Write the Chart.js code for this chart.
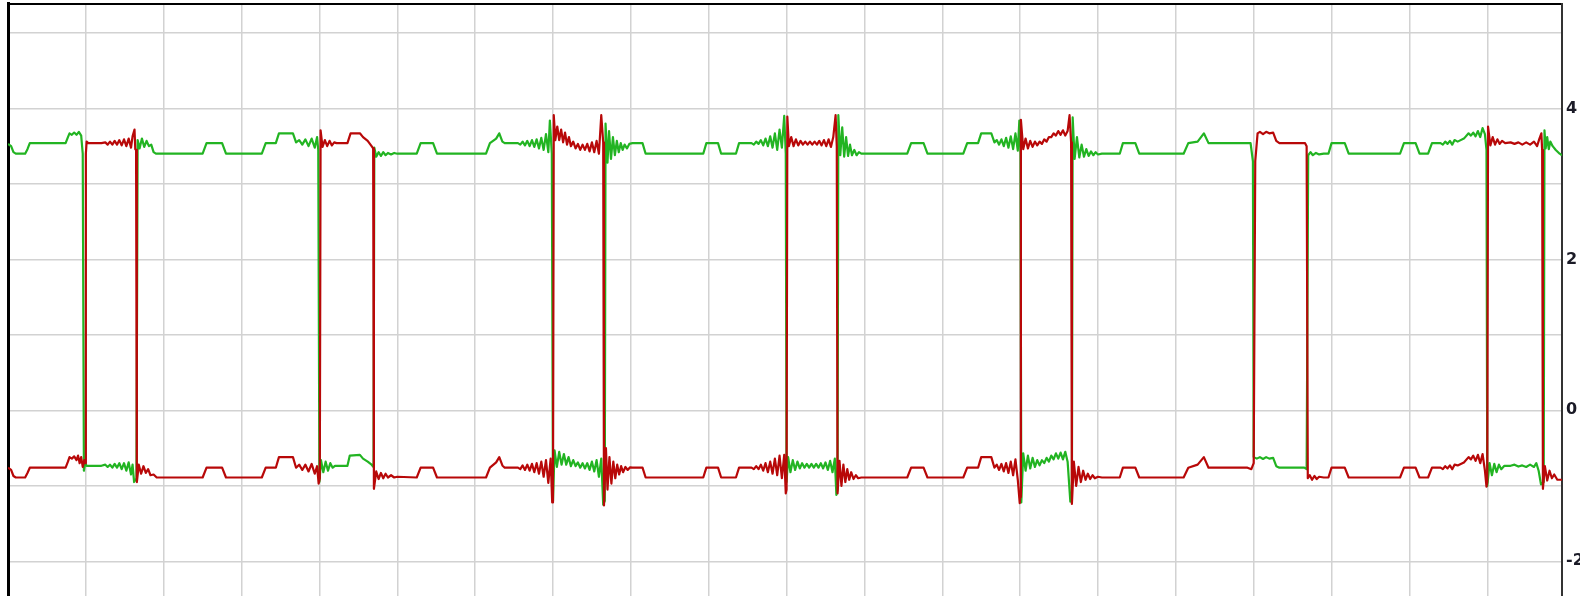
<!DOCTYPE html>
<html>
<head>
<meta charset="utf-8">
<script src="https://cdn.jsdelivr.net/npm/chart.js@4/dist/chart.umd.min.js"></script>
<style>
    html, body { margin: 0; padding: 0; background: #fff; }
    #wrap { width: 1580px; height: 596px; position: relative; }
</style>
</head>
<body>
<div id="wrap"><canvas id="chart"></canvas></div>
<script>
// time in grid divisions, value in volts
var greenTrace = [
    [0.00, 3.53], [0.04, 3.50], [0.07, 3.42], [0.10, 3.40], [0.22, 3.40], [0.25, 3.46], [0.28, 3.54], [0.74, 3.54],
    [0.77, 3.62], [0.79, 3.67], [0.82, 3.65], [0.85, 3.68], [0.88, 3.65], [0.91, 3.69], [0.94, 3.64],
    [0.96, 3.40], [0.975, -0.80], [0.99, -0.70], [1.01, -0.735], [1.20, -0.735], [1.25, -0.72], [1.28, -0.75],
    [1.31, -0.72], [1.34, -0.76], [1.37, -0.71], [1.40, -0.76], [1.43, -0.70], [1.46, -0.78], [1.49, -0.70],
    [1.52, -0.80], [1.55, -0.69], [1.58, -0.85], [1.60, -0.72], [1.62, -0.95],
    [1.65, -0.90], [1.665, 3.58], [1.69, 3.47], [1.72, 3.60], [1.75, 3.49], [1.78, 3.57], [1.81, 3.50], [1.84, 3.52],
    [1.87, 3.42], [1.90, 3.40], [2.50, 3.40], [2.55, 3.54], [2.75, 3.54], [2.80, 3.40], [3.26, 3.40], [3.31, 3.54],
    [3.44, 3.54], [3.48, 3.67], [3.66, 3.67], [3.70, 3.55], [3.74, 3.58], [3.78, 3.52], [3.82, 3.59], [3.86, 3.50],
    [3.90, 3.60], [3.94, 3.48], [3.97, 3.62],
    [3.985, 3.45], [4.00, -0.95], [4.02, -0.66], [4.05, -0.82], [4.08, -0.68], [4.11, -0.80], [4.14, -0.70],
    [4.17, -0.76], [4.20, -0.735], [4.36, -0.735], [4.39, -0.60], [4.52, -0.59], [4.56, -0.64], [4.62, -0.68],
    [4.67, -0.72],
    [4.695, -0.75], [4.705, 3.48], [4.73, 3.36], [4.76, 3.42], [4.79, 3.37], [4.82, 3.42], [4.85, 3.38], [4.88, 3.41],
    [4.92, 3.39], [4.96, 3.41], [5.00, 3.40], [5.25, 3.40], [5.30, 3.54], [5.46, 3.54], [5.51, 3.40], [6.14, 3.40],
    [6.19, 3.54], [6.27, 3.60], [6.31, 3.67], [6.35, 3.56], [6.38, 3.54], [6.55, 3.54], [6.58, 3.52], [6.61, 3.56],
    [6.64, 3.51], [6.67, 3.57], [6.70, 3.50], [6.73, 3.58], [6.76, 3.49], [6.79, 3.59], [6.82, 3.47], [6.85, 3.61],
    [6.88, 3.45], [6.91, 3.66], [6.94, 3.42], [6.96, 3.84],
    [6.985, 3.40], [7.00, -1.20], [7.02, -0.53], [7.05, -0.75], [7.08, -0.55], [7.11, -0.72], [7.14, -0.58],
    [7.17, -0.72], [7.20, -0.62], [7.23, -0.74], [7.26, -0.66], [7.29, -0.74], [7.32, -0.69], [7.35, -0.76],
    [7.38, -0.70], [7.41, -0.77], [7.44, -0.70], [7.47, -0.79], [7.50, -0.68], [7.53, -0.81], [7.56, -0.66],
    [7.59, -0.88], [7.62, -0.64], [7.645, -1.25],
    [7.665, -1.20], [7.675, 3.80], [7.70, 3.28], [7.72, 3.70], [7.745, 3.33], [7.77, 3.62], [7.795, 3.38], [7.82, 3.57],
    [7.845, 3.42], [7.87, 3.54], [7.895, 3.45], [7.92, 3.52], [7.95, 3.47], [7.98, 3.53], [8.02, 3.54], [8.15, 3.54],
    [8.19, 3.40], [8.93, 3.40], [8.97, 3.54], [9.12, 3.54], [9.16, 3.40], [9.35, 3.40], [9.39, 3.54], [9.55, 3.54],
    [9.58, 3.52], [9.61, 3.56], [9.64, 3.53], [9.67, 3.58], [9.70, 3.51], [9.73, 3.60], [9.76, 3.50], [9.79, 3.63],
    [9.82, 3.48], [9.85, 3.67], [9.88, 3.45], [9.91, 3.72], [9.94, 3.48], [9.97, 3.90],
    [9.99, 3.40], [10.00, -0.95], [10.02, -0.62], [10.05, -0.82], [10.08, -0.66], [10.11, -0.79], [10.14, -0.68],
    [10.17, -0.77], [10.20, -0.70], [10.23, -0.76], [10.26, -0.71], [10.29, -0.76], [10.32, -0.71], [10.35, -0.76],
    [10.38, -0.71], [10.41, -0.76], [10.44, -0.70], [10.47, -0.77], [10.50, -0.69], [10.53, -0.79], [10.56, -0.67],
    [10.59, -0.82], [10.62, -0.64], [10.64, -1.12],
    [10.655, -1.05], [10.665, 3.91], [10.69, 3.38], [10.715, 3.75], [10.74, 3.36], [10.765, 3.62], [10.79, 3.37],
    [10.815, 3.52], [10.84, 3.38], [10.87, 3.45], [10.90, 3.38], [10.93, 3.42], [10.96, 3.40], [11.55, 3.40],
    [11.60, 3.54], [11.76, 3.54], [11.81, 3.40], [12.27, 3.40], [12.32, 3.54], [12.46, 3.54], [12.50, 3.67],
    [12.63, 3.67], [12.67, 3.55], [12.70, 3.58], [12.73, 3.52], [12.76, 3.59], [12.79, 3.50], [12.82, 3.61],
    [12.85, 3.48], [12.88, 3.63], [12.91, 3.46], [12.94, 3.67], [12.97, 3.44], [12.99, 3.84],
    [13.005, 3.40], [13.015, -1.22], [13.04, -0.57], [13.07, -0.80], [13.10, -0.60], [13.13, -0.77], [13.16, -0.63],
    [13.19, -0.75], [13.22, -0.66], [13.25, -0.73], [13.28, -0.66], [13.31, -0.70], [13.34, -0.63], [13.37, -0.68],
    [13.40, -0.60], [13.43, -0.65], [13.46, -0.57], [13.49, -0.64], [13.52, -0.56], [13.55, -0.65], [13.58, -0.55],
    [13.61, -0.68], [13.645, -1.21],
    [13.665, -1.15], [13.675, 3.88], [13.70, 3.33], [13.73, 3.62], [13.76, 3.35], [13.79, 3.52], [13.82, 3.36],
    [13.85, 3.46], [13.88, 3.37], [13.91, 3.43], [13.94, 3.38], [13.97, 3.42], [14.00, 3.39], [14.05, 3.40],
    [14.28, 3.40], [14.32, 3.54], [14.48, 3.54], [14.53, 3.40], [15.10, 3.40], [15.16, 3.54], [15.28, 3.56],
    [15.36, 3.67], [15.42, 3.54], [15.92, 3.54], [15.96, 3.54], [15.99, 3.30],
    [16.00, -0.62], [16.04, -0.64], [16.08, -0.62], [16.12, -0.645], [16.16, -0.62], [16.20, -0.64], [16.25, -0.63],
    [16.29, -0.74], [16.33, -0.76], [16.65, -0.76], [16.68, -0.78],
    [16.70, 3.38], [16.73, 3.42], [16.76, 3.38], [16.80, 3.41], [16.84, 3.39], [16.90, 3.40], [16.96, 3.40],
    [17.00, 3.54], [17.17, 3.54], [17.22, 3.40], [17.88, 3.40], [17.93, 3.54], [18.08, 3.54], [18.13, 3.40],
    [18.24, 3.40], [18.29, 3.54], [18.40, 3.54], [18.43, 3.52], [18.46, 3.56], [18.49, 3.53], [18.52, 3.57],
    [18.55, 3.52], [18.58, 3.58], [18.62, 3.56], [18.70, 3.60], [18.76, 3.67], [18.79, 3.64], [18.82, 3.68],
    [18.85, 3.63], [18.88, 3.70], [18.91, 3.62], [18.94, 3.74], [18.97, 3.66],
    [18.99, 3.45], [19.00, -1.00], [19.03, -0.70], [19.06, -0.86], [19.09, -0.71], [19.12, -0.82], [19.15, -0.72],
    [19.18, -0.78], [19.22, -0.735], [19.30, -0.735], [19.35, -0.72], [19.40, -0.745], [19.45, -0.73], [19.50, -0.75],
    [19.55, -0.72], [19.60, -0.75], [19.63, -0.70], [19.66, -0.80], [19.69, -0.98], [19.725, -0.95],
    [19.735, 3.71], [19.75, 3.47], [19.77, 3.62], [19.79, 3.46], [19.81, 3.56], [19.84, 3.50], [19.88, 3.45],
    [19.93, 3.40], [19.96, 3.38]
];

var redTrace = [
    [0.00, -0.76], [0.04, -0.79], [0.07, -0.87], [0.10, -0.89], [0.22, -0.89], [0.25, -0.83], [0.28, -0.76],
    [0.74, -0.76], [0.77, -0.68], [0.79, -0.62], [0.82, -0.64], [0.85, -0.61], [0.88, -0.66], [0.90, -0.60],
    [0.92, -0.70], [0.94, -0.62], [0.96, -0.75], [0.98, -0.66], [0.99, -0.70],
    [1.00, 3.40], [1.01, 3.56], [1.03, 3.54], [1.20, 3.54], [1.25, 3.55], [1.28, 3.52], [1.31, 3.56], [1.34, 3.52],
    [1.37, 3.57], [1.40, 3.52], [1.43, 3.58], [1.46, 3.51], [1.49, 3.59], [1.52, 3.50], [1.55, 3.60], [1.58, 3.48],
    [1.60, 3.63], [1.625, 3.72], [1.635, 3.46], [1.645, 3.45],
    [1.655, -0.95], [1.68, -0.72], [1.71, -0.84], [1.74, -0.74], [1.77, -0.83], [1.80, -0.78], [1.83, -0.86],
    [1.87, -0.85], [1.91, -0.89], [2.50, -0.89], [2.55, -0.76], [2.75, -0.76], [2.80, -0.89], [3.26, -0.89],
    [3.31, -0.76], [3.44, -0.76], [3.48, -0.62], [3.66, -0.62], [3.70, -0.76], [3.74, -0.72], [3.78, -0.79],
    [3.82, -0.72], [3.86, -0.81], [3.90, -0.71], [3.94, -0.84], [3.97, -0.74], [3.99, -0.97], [4.005, -0.90],
    [4.015, 3.71], [4.04, 3.49], [4.07, 3.58], [4.10, 3.50], [4.13, 3.57], [4.16, 3.51], [4.19, 3.55], [4.22, 3.54],
    [4.36, 3.54], [4.40, 3.67], [4.52, 3.67], [4.56, 3.62], [4.62, 3.57], [4.67, 3.50], [4.69, 3.47],
    [4.70, -1.04], [4.73, -0.81], [4.76, -0.91], [4.79, -0.83], [4.82, -0.90], [4.85, -0.84], [4.88, -0.89],
    [4.92, -0.86], [4.96, -0.89], [5.00, -0.88], [5.25, -0.89], [5.30, -0.76], [5.46, -0.76], [5.51, -0.89],
    [6.14, -0.89], [6.19, -0.76], [6.27, -0.69], [6.31, -0.62], [6.35, -0.73], [6.38, -0.76], [6.55, -0.76],
    [6.58, -0.78], [6.61, -0.73], [6.64, -0.79], [6.67, -0.72], [6.70, -0.80], [6.73, -0.71], [6.76, -0.82],
    [6.79, -0.70], [6.82, -0.84], [6.85, -0.68], [6.88, -0.88], [6.91, -0.66], [6.94, -0.96], [6.97, -0.64],
    [6.99, -1.22], [7.00, -1.15],
    [7.01, 3.91], [7.03, 3.58], [7.055, 3.76], [7.08, 3.58], [7.105, 3.72], [7.13, 3.55], [7.155, 3.68], [7.18, 3.52],
    [7.205, 3.62], [7.23, 3.50], [7.26, 3.56], [7.29, 3.47], [7.32, 3.53], [7.35, 3.45], [7.38, 3.52], [7.41, 3.45],
    [7.44, 3.53], [7.47, 3.43], [7.50, 3.55], [7.53, 3.42], [7.56, 3.57], [7.59, 3.40], [7.62, 3.91], [7.645, 3.55],
    [7.655, -1.26], [7.68, -0.50], [7.70, -1.05], [7.725, -0.62], [7.75, -0.97], [7.775, -0.68], [7.80, -0.90],
    [7.825, -0.72], [7.85, -0.85], [7.875, -0.74], [7.90, -0.82], [7.93, -0.75], [7.96, -0.79], [7.99, -0.755],
    [8.02, -0.76], [8.15, -0.76], [8.19, -0.89], [8.93, -0.89], [8.97, -0.76], [9.12, -0.76], [9.16, -0.89],
    [9.35, -0.89], [9.39, -0.76], [9.55, -0.76], [9.58, -0.78], [9.61, -0.74], [9.64, -0.78], [9.67, -0.72],
    [9.70, -0.80], [9.73, -0.70], [9.76, -0.82], [9.79, -0.68], [9.82, -0.84], [9.85, -0.64], [9.88, -0.86],
    [9.91, -0.60], [9.94, -0.90], [9.97, -0.59], [9.99, -1.10], [10.00, -1.05],
    [10.01, 3.89], [10.03, 3.50], [10.06, 3.62], [10.09, 3.50], [10.12, 3.59], [10.15, 3.51], [10.18, 3.57],
    [10.21, 3.52], [10.24, 3.56], [10.27, 3.52], [10.30, 3.56], [10.33, 3.52], [10.36, 3.56], [10.39, 3.52],
    [10.42, 3.57], [10.45, 3.51], [10.48, 3.58], [10.51, 3.50], [10.54, 3.59], [10.57, 3.49], [10.60, 3.62],
    [10.63, 3.91], [10.645, 3.50],
    [10.655, -1.10], [10.68, -0.67], [10.705, -1.00], [10.73, -0.72], [10.755, -0.95], [10.78, -0.78], [10.805, -0.92],
    [10.83, -0.82], [10.86, -0.91], [10.89, -0.86], [10.92, -0.90], [10.96, -0.89], [11.55, -0.89], [11.60, -0.76],
    [11.76, -0.76], [11.81, -0.89], [12.27, -0.89], [12.32, -0.76], [12.46, -0.76], [12.50, -0.62], [12.63, -0.62],
    [12.67, -0.76], [12.70, -0.72], [12.73, -0.79], [12.76, -0.71], [12.79, -0.81], [12.82, -0.70], [12.85, -0.83],
    [12.88, -0.68], [12.91, -0.86], [12.94, -0.65], [12.97, -0.92], [12.995, -1.23], [13.00, -1.15],
    [13.01, 3.85], [13.04, 3.46], [13.07, 3.60], [13.10, 3.47], [13.13, 3.57], [13.16, 3.49], [13.19, 3.56],
    [13.22, 3.51], [13.25, 3.56], [13.28, 3.53], [13.31, 3.59], [13.34, 3.56], [13.37, 3.62], [13.40, 3.62],
    [13.43, 3.67], [13.46, 3.64], [13.49, 3.70], [13.52, 3.65], [13.55, 3.71], [13.58, 3.64], [13.61, 3.70],
    [13.635, 3.91], [13.655, 3.55],
    [13.665, -1.24], [13.69, -0.68], [13.72, -1.00], [13.75, -0.75], [13.78, -0.95], [13.81, -0.80], [13.84, -0.92],
    [13.87, -0.84], [13.90, -0.91], [13.93, -0.86], [13.96, -0.90], [14.00, -0.88], [14.05, -0.89], [14.28, -0.89],
    [14.32, -0.76], [14.48, -0.76], [14.53, -0.89], [15.10, -0.89], [15.16, -0.76], [15.28, -0.72], [15.36, -0.62],
    [15.42, -0.76], [15.92, -0.76], [15.97, -0.78], [16.00, -0.70],
    [16.02, 3.30], [16.05, 3.67], [16.08, 3.69], [16.12, 3.66], [16.16, 3.69], [16.20, 3.67], [16.25, 3.68],
    [16.29, 3.57], [16.33, 3.54], [16.66, 3.54], [16.68, 3.50],
    [16.695, -0.90], [16.72, -0.86], [16.75, -0.92], [16.78, -0.87], [16.81, -0.91], [16.84, -0.88], [16.90, -0.89],
    [16.96, -0.89], [17.00, -0.76], [17.17, -0.76], [17.22, -0.89], [17.88, -0.89], [17.93, -0.76], [18.08, -0.76],
    [18.13, -0.89], [18.24, -0.89], [18.29, -0.76], [18.40, -0.76], [18.43, -0.78], [18.46, -0.74], [18.49, -0.77],
    [18.52, -0.73], [18.55, -0.78], [18.58, -0.72], [18.62, -0.73], [18.70, -0.69], [18.76, -0.62], [18.79, -0.65],
    [18.82, -0.60], [18.85, -0.67], [18.88, -0.59], [18.91, -0.70], [18.94, -0.58], [18.97, -0.80], [18.99, -1.01],
    [19.00, -0.95],
    [19.01, 3.76], [19.04, 3.51], [19.07, 3.62], [19.10, 3.52], [19.13, 3.59], [19.16, 3.53], [19.19, 3.57],
    [19.23, 3.54], [19.30, 3.55], [19.35, 3.53], [19.40, 3.55], [19.45, 3.52], [19.50, 3.55], [19.55, 3.52],
    [19.60, 3.56], [19.64, 3.50], [19.67, 3.60], [19.695, 3.67], [19.705, 3.45],
    [19.715, -1.04], [19.74, -0.74], [19.77, -0.93], [19.80, -0.80], [19.83, -0.90], [19.86, -0.85], [19.90, -0.92],
    [19.96, -0.92]
];

var xRange = [0, 19.96];
var yRange = [-2.46, 5.39];
var yTickLabels = [4, 2, 0, -2];

function toPoints(trace) {
    var pts = [];
    for (var i = 0; i < trace.length; i++) {
        pts.push({ x: trace[i][0], y: trace[i][1] });
    }
    return pts;
}

// keep the plot area glued to the frame, no room reserved for half labels
function noPadding(scale) {
    scale.paddingTop = 0;
    scale.paddingBottom = 0;
    scale.paddingLeft = 0;
    scale.paddingRight = 0;
}

var gridColor = '#d2d2d2';

var ctx = document.getElementById('chart');
var scopeChart = new Chart(ctx, {
    type: 'line',
    data: {
        datasets: [
            {
                label: 'CH2',
                data: toPoints(redTrace),
                borderColor: '#b80808',
                borderWidth: 2.2,
                borderJoinStyle: 'round',
                pointRadius: 0,
                tension: 0,
                fill: false
            },
            {
                label: 'CH1',
                data: toPoints(greenTrace),
                borderColor: '#22b422',
                borderWidth: 2.2,
                borderJoinStyle: 'round',
                pointRadius: 0,
                tension: 0,
                fill: false
            }
        ]
    },
    options: {
        responsive: true,
        maintainAspectRatio: false,
        animation: false,
        events: [],
        layout: { padding: { left: 8, top: 3.5, right: 0, bottom: 0 } },
        plugins: {
            legend: { display: false },
            tooltip: { enabled: false }
        },
        scales: {
            x: {
                type: 'linear',
                position: 'top',
                min: xRange[0],
                max: xRange[1],
                afterFit: function (scale) { scale.height = 0; noPadding(scale); },
                ticks: { display: false, stepSize: 1, includeBounds: false },
                grid: { color: gridColor, lineWidth: 1.5, drawTicks: false },
                border: { display: true, color: '#000', width: 2 }
            },
            y: {
                type: 'linear',
                position: 'left',
                min: yRange[0],
                max: yRange[1],
                afterFit: function (scale) { scale.width = 0; noPadding(scale); },
                ticks: { display: false, stepSize: 1, includeBounds: false },
                grid: { color: gridColor, lineWidth: 1.5, drawTicks: false },
                border: { display: true, color: '#000', width: 3 }
            },
            y2: {
                type: 'linear',
                position: 'right',
                min: yRange[0],
                max: yRange[1],
                afterFit: function (scale) { scale.width = 18; noPadding(scale); },
                ticks: {
                    stepSize: 2,
                    includeBounds: false,
                    padding: 4,
                    color: '#1a1a26',
                    font: { family: 'DejaVu Sans', size: 16, weight: 'bold' },
                    callback: function (value) {
                        return yTickLabels.indexOf(value) >= 0 ? String(value) : '';
                    }
                },
                grid: { drawOnChartArea: false, drawTicks: false },
                border: { display: true, color: '#333', width: 2 }
            }
        }
    }
});
</script>
</body>
</html>
